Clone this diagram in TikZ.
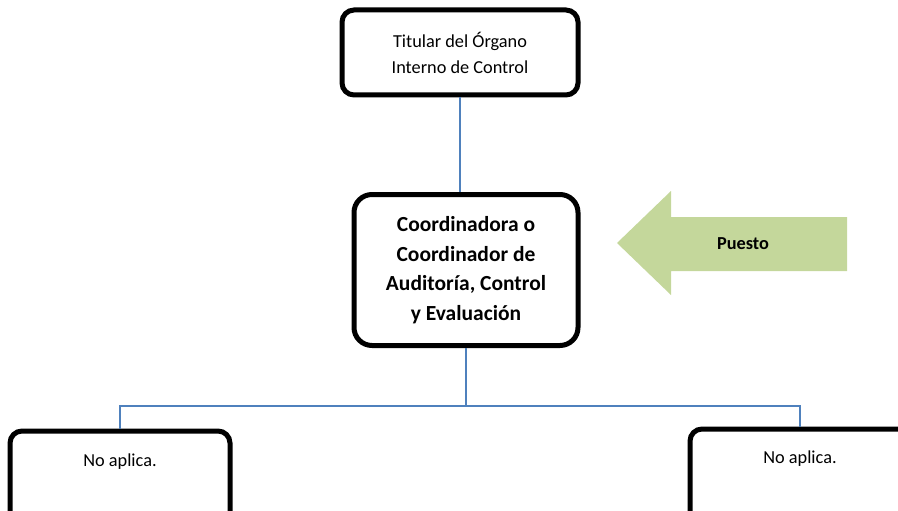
\documentclass[tikz,border=0pt]{standalone}
\usepackage{fontspec}
\setmainfont{Carlito}
\usetikzlibrary{positioning}
\definecolor{puestogreen}{HTML}{C4D79B}
\definecolor{linkblue}{HTML}{4F81BD}
\tikzset{
  caja/.style={draw,line width=5pt,rounded corners=12pt,align=center},
  enlace/.style={draw=linkblue,line width=1.5pt},
}
\begin{document}
\begin{tikzpicture}[x=1pt,y=-1pt]
\useasboundingbox (0,0) rectangle (898,511);
\clip (0,0) rectangle (898,511);

% cajas
\node[caja,minimum width=236pt,minimum height=85pt,font=\fontsize{18.3}{26}\selectfont] (titular) at (460,52.5)
  {Titular del Órgano\\Interno de Control};
\node[caja,rounded corners=18pt,minimum width=224pt,minimum height=151pt,font=\fontsize{21.5}{29.5}\selectfont\bfseries] (coord) at (466,270)
  {Coordinadora o\\Coordinador de\\Auditoría, Control\\y Evaluación};
\node[caja,minimum width=220pt,minimum height=110pt] (na1) at (120,486) {};
\node[caja,minimum width=220pt,minimum height=110pt] (na2) at (800,484) {};
\node[below=21.5pt of na1.north,font=\fontsize{18.3}{22}\selectfont] (na1txt) {No aplica.};
\node[below=21pt of na2.north,font=\fontsize{18.3}{22}\selectfont] (na2txt) {No aplica.};

% lineas
\coordinate (bar) at (466,406);
\draw[enlace] (titular.south) -- (titular.south |- coord.north);
\draw[enlace] (coord.south) -- (bar);
\draw[enlace] (na1.north) -- (na1.north |- bar) -- (na2.north |- bar) -- (na2.north);

% flecha
\fill[puestogreen] (617,243) -- (671,191) -- (671,217) -- (847,217) -- (847,271) -- (671,271) -- (671,295) -- cycle;
\node[font=\fontsize{18.3}{22}\selectfont\bfseries] (puesto) at (743,244) {Puesto};
\end{tikzpicture}
\end{document}
